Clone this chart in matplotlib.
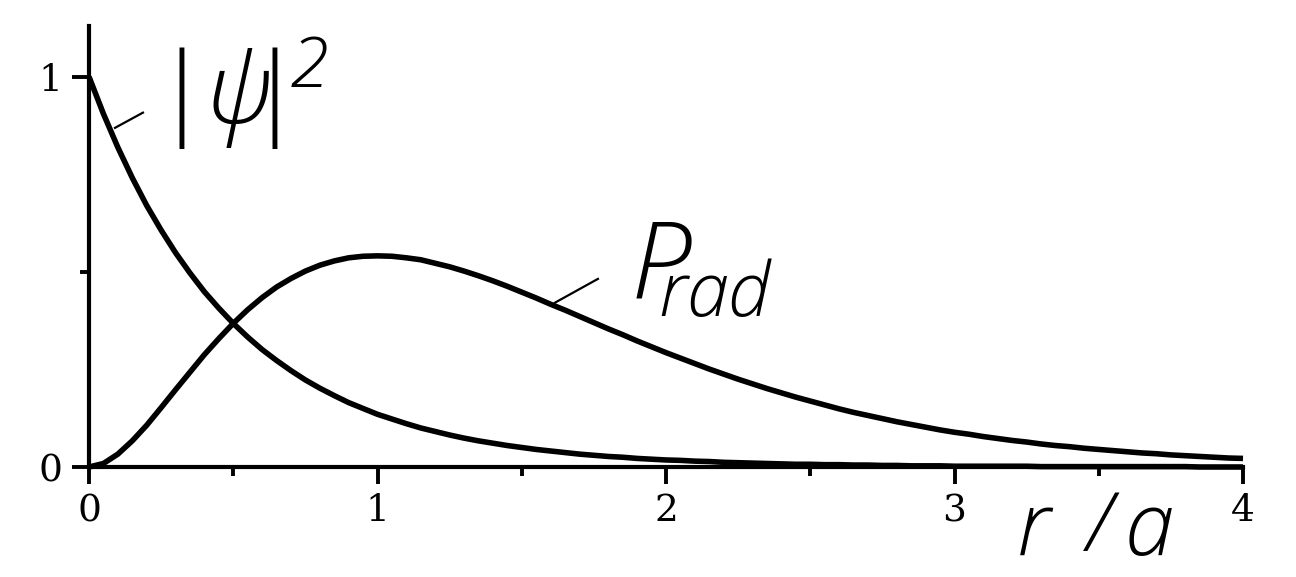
import matplotlib
matplotlib.use("Agg")
import matplotlib.pyplot as plt

plt.rcParams["mathtext.fontset"] = "custom"
plt.rcParams["mathtext.it"] = "Open Sans:italic:light"
plt.rcParams["mathtext.rm"] = "Open Sans:italic:light"
plt.rcParams["mathtext.default"] = "it"

# r/a sample positions (step 0.05) and curve values
r = [round(0.05 * k, 2) for k in range(81)]
psi2 = [1.000, 0.905, 0.819, 0.741, 0.670, 0.607, 0.549, 0.497, 0.449, 0.407,
        0.368, 0.333, 0.301, 0.273, 0.247, 0.223, 0.202, 0.183, 0.165, 0.150,
        0.135, 0.123, 0.111, 0.100, 0.091, 0.082, 0.074, 0.067, 0.061, 0.055,
        0.050, 0.045, 0.041, 0.037, 0.033, 0.030, 0.027, 0.025, 0.022, 0.020,
        0.018, 0.017, 0.015, 0.014, 0.012, 0.011, 0.010, 0.009, 0.008, 0.007,
        0.007, 0.006, 0.006, 0.005, 0.005, 0.004, 0.004, 0.003, 0.003, 0.003,
        0.002, 0.002, 0.002, 0.002, 0.002, 0.002, 0.001, 0.001, 0.001, 0.001,
        0.001, 0.001, 0.001, 0.001, 0.001, 0.001, 0.001, 0.000, 0.000, 0.000, 0.000]
prad = [0.000, 0.009, 0.033, 0.067, 0.107, 0.152, 0.198, 0.243, 0.288, 0.329,
        0.368, 0.403, 0.434, 0.461, 0.483, 0.502, 0.517, 0.528, 0.536, 0.540,
        0.541, 0.540, 0.536, 0.531, 0.522, 0.513, 0.502, 0.490, 0.477, 0.463,
        0.448, 0.433, 0.417, 0.402, 0.386, 0.370, 0.354, 0.339, 0.323, 0.308,
        0.293, 0.279, 0.265, 0.251, 0.238, 0.225, 0.213, 0.201, 0.190, 0.179,
        0.169, 0.159, 0.149, 0.140, 0.132, 0.124, 0.116, 0.109, 0.102, 0.095,
        0.089, 0.084, 0.078, 0.073, 0.068, 0.064, 0.059, 0.055, 0.052, 0.048,
        0.045, 0.042, 0.039, 0.036, 0.034, 0.031, 0.029, 0.027, 0.025, 0.023, 0.022]
xticks = [0, 1, 2, 3, 4]
xminor = [0.5, 1.5, 2.5, 3.5]
yticks = [0, 1]
yminor = [0.5]

fig = plt.figure(figsize=(12.96, 5.77), dpi=100)
ax = fig.add_axes([89/1296, 110/577, 1154/1296, 441/577])
ax.set_xlim(0, 4)
ax.set_ylim(0, 1.13)

lw_curve = 4.0
ax.plot(r, psi2, color="black", lw=lw_curve, solid_capstyle="butt",
        solid_joinstyle="round", clip_on=False, zorder=3)
ax.plot(r, prad, color="black", lw=lw_curve, solid_capstyle="butt",
        solid_joinstyle="round", clip_on=False, zorder=3)

for side in ("top", "right"):
    ax.spines[side].set_visible(False)
for side in ("left", "bottom"):
    ax.spines[side].set_linewidth(3.0)

ax.set_xticks(xticks)
ax.set_xticks(xminor, minor=True)
ax.set_yticks(yticks)
ax.set_yticks(yminor, minor=True)
ax.set_xticklabels([str(v) for v in xticks])
ax.set_yticklabels([str(v) for v in yticks])
ax.tick_params(which="major", direction="out", length=12, width=2.8, color="black",
               labelsize=27, labelfontfamily="DejaVu Serif")
ax.tick_params(which="minor", direction="out", length=6.5, width=2.8, color="black")
ax.tick_params(axis="x", which="major", pad=7)
ax.tick_params(axis="y", which="major", pad=7)

# pointer strokes
ax.plot([0.090, 0.187], [0.869, 0.908], color="black", lw=1.6, clip_on=False)
ax.plot([1.615, 1.764], [0.421, 0.482], color="black", lw=1.6, clip_on=False)

hand = dict(color="black", ha="left", va="baseline", clip_on=False)
ax.text(0.211, 0.877, r"$|\psi\!\!|^{\!2}$", fontsize=72, **hand)
ax.text(1.875, 0.428, r"$P_{\!\!\!rad}$", fontsize=78, **hand)

plain = dict(family="Open Sans", style="italic", weight="light", color="black",
             ha="left", va="baseline", clip_on=False)
ax.text(3.215, -0.226, "r", fontsize=64, **plain)
ax.text(3.460, -0.215, "/", fontsize=58, **plain)
ax.text(3.590, -0.226, "a", fontsize=64, **plain)

fig.savefig("out.png", dpi=100, facecolor="white")
